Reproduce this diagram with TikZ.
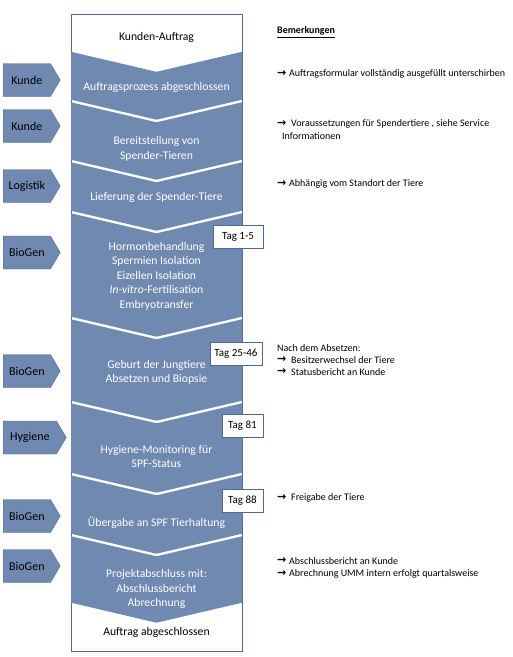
\documentclass[tikz,border=0pt]{standalone}
\usepackage{fontspec}
\setmainfont{Carlito}
\newfontfamily\arrowfont{DejaVu Sans}
\usetikzlibrary{shapes.symbols}
\definecolor{segblue}{HTML}{7089B0}
\definecolor{segline}{HTML}{51699A}
\newcommand\chevseg[2]{\fill[segblue] (71,#1+1.3) -- (156.5,#1+21.3) -- (242,#1+1.3) -- (242,#2-1.3) -- (156.5,#2+18.7) -- (71,#2-1.3) -- cycle;}
\newcommand\rarr{{\arrowfont\bfseries\fontsize{11}{10}\selectfont →}}
\begin{document}
\begin{tikzpicture}[x=1pt,y=-1pt,
  segtext/.style={text=white,align=center,inner sep=0pt,font=\fontsize{11.7}{14.5}\selectfont},
  boxtext/.style={text=black,align=center,inner sep=0pt,font=\fontsize{11.7}{14.5}\selectfont},
  role/.style={shape=signal,signal to=east,signal pointer angle=119,fill=segblue,draw=segline,line width=0.4pt,minimum height=33pt,minimum width=57pt,inner sep=0pt,anchor=west,font=\fontsize{12}{12}\selectfont,text=black},
  tagbox/.style={draw=segline,fill=white,line width=0.6pt,minimum height=23pt,inner sep=0pt,font=\fontsize{11}{11}\selectfont},
  note/.style={anchor=west,inner sep=0pt,font=\fontsize{10}{12}\selectfont}
]
\useasboundingbox (0,0) rectangle (513,657);
% column
\draw[segline,line width=0.6pt,fill=white] (71,14) rectangle (242,651);
\chevseg{50.5}{101}
\chevseg{101}{161}
\chevseg{161}{212}
\chevseg{212}{318}
\chevseg{318}{402}
\chevseg{402}{474}
\chevseg{474}{535}
\chevseg{535}{604}
% column texts
\node[boxtext] (t0) at (156.5,37) {Kunden-Auftrag};
\node[segtext] (t1) at (156.5,87) {Auftragsprozess abgeschlossen};
\node[segtext] (t2) at (156.5,149) {Bereitstellung von\\Spender-Tieren};
\node[segtext] (t3) at (156.5,197) {Lieferung der Spender-Tiere};
\node[segtext] (t4) at (156.5,276) {Hormonbehandlung\\Spermien Isolation\\Eizellen Isolation\\\textit{In-vitro}-Fertilisation\\Embryotransfer};
\node[segtext] (t5) at (156.5,372.5) {Geburt der Jungtiere\\Absetzen und Biopsie};
\node[segtext] (t6) at (156.5,456.5) {Hygiene-Monitoring für\\SPF-Status};
\node[segtext] (t7) at (156.5,523) {Übergabe an SPF Tierhaltung};
\node[segtext] (t8) at (156.5,589) {Projektabschluss mit:\\Abschlussbericht\\Abrechnung};
\node[boxtext] (t9) at (156.5,632) {Auftrag abgeschlossen};
% roles
\node[role] (r1) at (3,80) {Kunde};
\node[role] (r2) at (3,126) {Kunde};
\node[role] (r3) at (3,186) {Logistik};
\node[role] (r4) at (3,252.5) {BioGen};
\node[role] (r5) at (3,371) {BioGen};
\node[role,minimum width=63pt] (r6) at (3,437.5) {Hygiene};
\node[role] (r7) at (3,516) {BioGen};
\node[role] (r8) at (3,566) {BioGen};
% tags
\node[tagbox,minimum width=50pt] (g1) at (238,236.5) {Tag 1-5};
\node[tagbox,minimum width=52pt] (g2) at (236,353.5) {Tag 25-46};
\node[tagbox,minimum width=41pt] (g3) at (242.5,426) {Tag 81};
\node[tagbox,minimum width=41pt] (g4) at (242.5,501) {Tag 88};
% notes
\node[note] (n0) at (277,32) {\underline{\textbf{Bemerkungen}}};
\node[note] (a1) at (277,74) {\rarr};
\node[note] (n1) at (289,74) {Auftragsformular vollständig ausgefüllt unterschirben};
\node[note] (a2) at (277,124) {\rarr};
\node[note] (n2) at (291,124) {Voraussetzungen für Spendertiere , siehe Service};
\node[note] (n3) at (282,136) {Informationen};
\node[note] (a3) at (277,184) {\rarr};
\node[note] (n4) at (289,184) {Abhängig vom Standort der Tiere};
\node[note] (n5) at (277,348) {Nach dem Absetzen:};
\node[note] (a5) at (277,360) {\rarr};
\node[note] (n6) at (291,360) {Besitzerwechsel der Tiere};
\node[note] (a6) at (277,372) {\rarr};
\node[note] (n7) at (291,372) {Statusbericht an Kunde};
\node[note] (a7) at (277,498) {\rarr};
\node[note] (n8) at (291,498) {Freigabe der Tiere};
\node[note] (a8) at (277,561) {\rarr};
\node[note] (n9) at (289,561) {Abschlussbericht an Kunde};
\node[note] (a9) at (277,574) {\rarr};
\node[note] (n10) at (289,574) {Abrechnung UMM intern erfolgt quartalsweise};
\end{tikzpicture}
\end{document}
